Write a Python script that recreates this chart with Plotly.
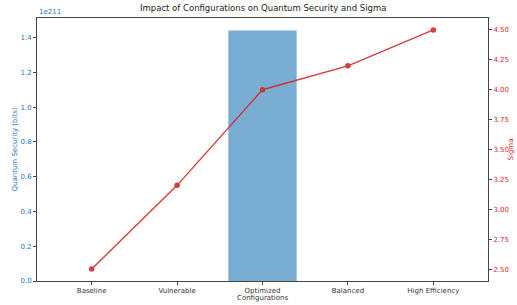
import plotly.graph_objects as go

configurations = ["Baseline", "Vulnerable", "Optimized", "Balanced", "High Efficiency"]
quantum_security_bits = [0.0, 0.0, 1.44e211, 0.0, 0.0]
sigma_values = [2.5, 3.2, 4.0, 4.2, 4.5]
left_tick_vals = [0.0, 0.2e211, 0.4e211, 0.6e211, 0.8e211, 1.0e211, 1.2e211, 1.4e211]
left_tick_text = ["0.0", "0.2", "0.4", "0.6", "0.8", "1.0", "1.2", "1.4"]
right_tick_vals = [2.50, 2.75, 3.00, 3.25, 3.50, 3.75, 4.00, 4.25, 4.50]
right_tick_text = ["2.50", "2.75", "3.00", "3.25", "3.50", "3.75", "4.00", "4.25", "4.50"]

BLUE = "#1f77b4"
RED = "#d62728"
FONT = "DejaVu Sans"

fig = go.Figure()
fig.add_trace(go.Bar(
    x=configurations, y=quantum_security_bits, width=0.8,
    marker=dict(color="rgba(31,119,180,0.6)", line=dict(width=0)),
    yaxis="y", showlegend=False,
))
fig.add_trace(go.Scatter(
    x=configurations, y=sigma_values, mode="lines+markers",
    line=dict(color=RED, width=1.4),
    marker=dict(color=RED, size=5.5),
    yaxis="y2", showlegend=False, opacity=0.9,
))

fig.update_layout(
    width=517, height=305,
    margin=dict(l=37, r=29, t=18, b=24, autoexpand=False),
    paper_bgcolor="white", plot_bgcolor="white",
    font=dict(family=FONT, size=7, color="#333"),
    xaxis=dict(
        range=[-0.64, 4.64], showgrid=False, zeroline=False, automargin=False,
        showline=True, mirror=True, linecolor="#444", linewidth=1,
        ticks="outside", ticklen=3, tickcolor="#444",
        tickfont=dict(size=7, color="#333"),
    ),
    yaxis=dict(
        range=[0, 1.512e211], showgrid=False, zeroline=False, automargin=False,
        showline=True, linecolor="#444", linewidth=1,
        ticks="outside", ticklen=3, tickcolor="#444",
        tickvals=left_tick_vals, ticktext=left_tick_text,
        tickfont=dict(size=7, color=BLUE),
    ),
    yaxis2=dict(
        range=[2.4, 4.6], overlaying="y", side="right", automargin=False,
        showgrid=False, zeroline=False,
        showline=True, linecolor="#444", linewidth=1,
        ticks="outside", ticklen=3, tickcolor="#444",
        tickvals=right_tick_vals, ticktext=right_tick_text,
        tickfont=dict(size=7, color=RED),
    ),
    annotations=[
        dict(text="Impact of Configurations on Quantum Security and Sigma",
             xref="paper", yref="paper", x=0.5, y=1.0, yshift=3,
             xanchor="center", yanchor="bottom", showarrow=False,
             font=dict(size=8.5, color="#222")),
        dict(text="1e211", xref="paper", yref="paper", x=0, y=1.0, yshift=0,
             xanchor="left", yanchor="bottom", showarrow=False,
             font=dict(size=7, color=BLUE)),
        dict(text="Configurations", xref="paper", yref="paper", x=0.5, y=0,
             yshift=-17, xanchor="center", yanchor="middle", showarrow=False,
             font=dict(size=7, color="#333")),
        dict(text="Quantum Security (bits)", xref="paper", yref="paper", x=0, y=0.5,
             xshift=-23, textangle=-90, xanchor="center", yanchor="middle",
             showarrow=False, font=dict(size=7, color=BLUE)),
        dict(text="Sigma", xref="paper", yref="paper", x=1, y=0.5,
             xshift=22, textangle=-90, xanchor="center", yanchor="middle",
             showarrow=False, font=dict(size=7, color=RED)),
    ],
)

fig.write_html("out.html", config={"displayModeBar": False},
               post_script="document.body.style.margin='0';")
